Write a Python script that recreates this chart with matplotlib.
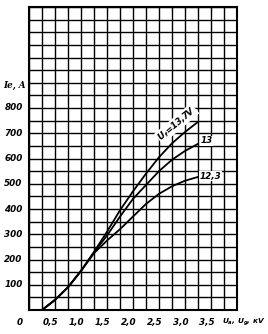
import matplotlib
matplotlib.use("Agg")
import matplotlib.pyplot as plt

plt.rcParams["mathtext.fontset"] = "custom"
plt.rcParams["mathtext.it"] = "DejaVu Sans:italic:bold"
plt.rcParams["mathtext.rm"] = "DejaVu Sans:bold"

# Data (anode/grid voltage in kV, current in A)
volts = [0.25, 0.5, 0.75, 1.0, 1.25, 1.5, 1.75, 2.0, 2.25, 2.5, 2.75, 3.0, 3.25]
i_137 = [0, 40, 90, 155, 230, 310, 395, 470, 540, 605, 660, 705, 745]
i_13 = [0, 40, 90, 155, 228, 295, 370, 440, 495, 550, 595, 630, 658]
i_123 = [0, 40, 90, 155, 225, 275, 320, 370, 420, 460, 490, 512, 527]

x_ticks = [0.5, 1.0, 1.5, 2.0, 2.5, 3.0, 3.5]
x_ticklabels = ["0,5", "1,0", "1,5", "2,0", "2,5", "3,0", "3,5"]
y_ticks = [100, 200, 300, 400, 500, 600, 700, 800]
y_ticklabels = ["100", "200", "300", "400", "500", "600", "700", "800"]
curve_labels = ["$U_f$=13,7V", "13", "12,3"]

fig = plt.figure(figsize=(2.68, 3.34), dpi=100)
ax = fig.add_axes([29/268, 24/334, 208/268, 303/334])
ax.set_xlim(0, 4.0)
ax.set_ylim(0, 1200)

# grid
g = 0.0
while g <= 4.0 + 1e-9:
    ax.axvline(g, color="black", lw=1.0, zorder=1)
    g += 0.25
g = 0
while g <= 1200:
    ax.axhline(g, color="black", lw=1.0, zorder=1)
    g += 50

for s in ax.spines.values():
    s.set_linewidth(1.5)
ax.set_xticks([])
ax.set_yticks([])

for ys in (i_137, i_13, i_123):
    ax.plot(volts, ys, color="black", lw=1.3, zorder=3, solid_capstyle="round")

font = dict(family="DejaVu Sans", style="italic", weight="bold", fontsize=6.3)

for xv, lab in zip(x_ticks, x_ticklabels):
    ax.text(xv - 0.08, -48, lab, ha="center", va="center", **font)
ax.text(-0.17, -48, "0", ha="center", va="center", **font)
ax.text(3.71, -48, "$U_a$, $U_g$, кV", ha="left", va="center",
        family="DejaVu Sans", style="italic", weight="bold", fontsize=5.3)

for yv, lab in zip(y_ticks, y_ticklabels):
    ax.text(-0.12, yv, lab, ha="right", va="center", **font)
ax.text(-0.07, 890, "Ie, A", ha="right", va="center", family="DejaVu Serif",
        style="italic", weight="bold", fontsize=6.3)

ax.text(2.84, 738, curve_labels[0], rotation=40, ha="center", va="center",
        zorder=4, bbox=dict(facecolor="white", edgecolor="none", pad=0.3),
        family="DejaVu Sans", style="italic", weight="bold", fontsize=6.3)
ax.text(3.3, 670, curve_labels[1], ha="left", va="center", zorder=4,
        bbox=dict(facecolor="white", edgecolor="none", pad=0.3), **font)
ax.text(3.28, 530, curve_labels[2], ha="left", va="center", zorder=4,
        bbox=dict(facecolor="white", edgecolor="none", pad=0.3), **font)

fig.savefig("out.png", dpi=100)
